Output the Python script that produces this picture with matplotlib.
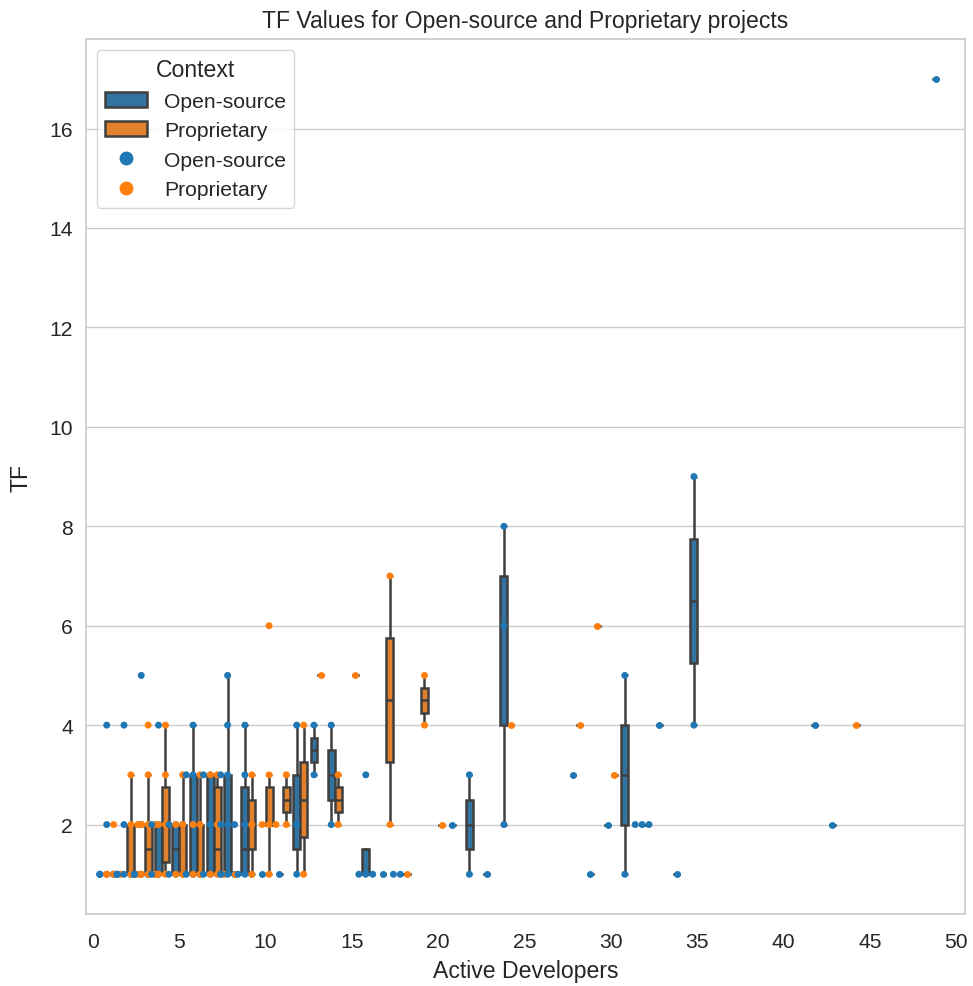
import warnings
import pandas as pd
import matplotlib
matplotlib.use("Agg")
import matplotlib.pyplot as plt
from matplotlib.lines import Line2D
import seaborn as sns

warnings.filterwarnings("ignore")

# -------- dados --------
open_devs = [1, 2, 3, 4, 5, 6, 7, 8, 9, 10, 11, 12, 13, 14, 16, 17, 18,
             21, 22, 23, 24, 28, 29, 30, 31, 32, 33, 34, 35, 42, 43, 49]
open_tf = [
    [1, 1, 1, 1, 1, 1, 1, 2, 4],
    [1, 1, 1, 1, 1, 1, 1, 2, 4],
    [1, 1, 1, 1, 1, 1, 1, 2, 5],
    [1, 1, 2, 2, 4],
    [1, 1, 1, 2, 2, 2],
    [1, 1, 1, 2, 3, 3, 4],
    [1, 1, 2, 3, 3],
    [1, 1, 1, 1, 2, 2, 2, 3, 3, 4, 5],
    [1, 1, 1, 2, 3, 4],
    [1],
    [1],
    [1, 2, 4],
    [3, 4],
    [2, 4],
    [1, 1, 1, 3],
    [1],
    [1, 1],
    [2],
    [1, 3],
    [1],
    [2, 6, 8],
    [3],
    [1],
    [2],
    [1, 5],
    [2, 2, 2],
    [4],
    [1],
    [4, 9],
    [4],
    [2],
    [17],
]

prop_devs = [1, 2, 3, 4, 5, 6, 7, 8, 9, 10, 11, 12, 13, 14, 15, 17, 18,
             19, 20, 24, 28, 29, 30, 44]
prop_tf = [
    [1, 1, 1, 1, 2],
    [1, 1, 2, 2, 3],
    [1, 1, 1, 1, 1, 1, 2, 2, 2, 2, 3, 4],
    [1, 1, 2, 2, 3, 4],
    [1, 1, 2, 2, 3],
    [1, 1, 2, 2, 3],
    [1, 1, 1, 2, 3, 3],
    [1],
    [1, 2, 3],
    [1, 2, 2, 2, 3, 6],
    [2, 3],
    [1, 4],
    [5],
    [2, 3],
    [5],
    [2, 7],
    [1],
    [4, 5],
    [2],
    [4],
    [4],
    [6],
    [3],
    [4],
]

contextos = ["Open-source", "Proprietary"]

# -------- montar tabela --------
linhas = []
for dev, valores in zip(open_devs, open_tf):
    for v in valores:
        linhas.append({"Active Developers": dev, "TF": v, "Context": contextos[0]})
for dev, valores in zip(prop_devs, prop_tf):
    for v in valores:
        linhas.append({"Active Developers": dev, "TF": v, "Context": contextos[1]})
df = pd.DataFrame(linhas)

# -------- plot --------
sns.set_theme(style="whitegrid", palette="tab10", font_scale=1.38)
plt.rcParams["font.family"] = ["Liberation Sans", "DejaVu Sans"]

fig = plt.figure(figsize=(9.73, 9.87), dpi=100)
ax = fig.add_axes([0.0884, 0.0729, 0.9034, 0.8865])

sns.boxplot(data=df, x="Active Developers", y="TF", hue="Context",
            hue_order=contextos, native_scale=True, showfliers=False,
            linewidth=1.8, ax=ax)
sns.swarmplot(data=df, x="Active Developers", y="TF", hue="Context",
              hue_order=contextos, native_scale=True, dodge=True, size=5, ax=ax)

ax.set_xticks(range(0, 51, 5))
ax.set_xlim(-0.4, 50.5)
ax.set_ylim(0.2, 17.8)
ax.grid(axis="x", visible=False)
ax.tick_params(axis="x", pad=7)
ax.set_xlabel("Active Developers", labelpad=6)
ax.set_ylabel("TF", labelpad=12)
ax.set_title("TF Values for Open-source and Proprietary projects", pad=9)
sns.move_legend(ax, "upper left", title="Context")

# pontos maiores na legenda
for h in ax.get_legend().legend_handles:
    if isinstance(h, Line2D):
        h.set_markersize(10)

fig.savefig("out.png", dpi=100)
